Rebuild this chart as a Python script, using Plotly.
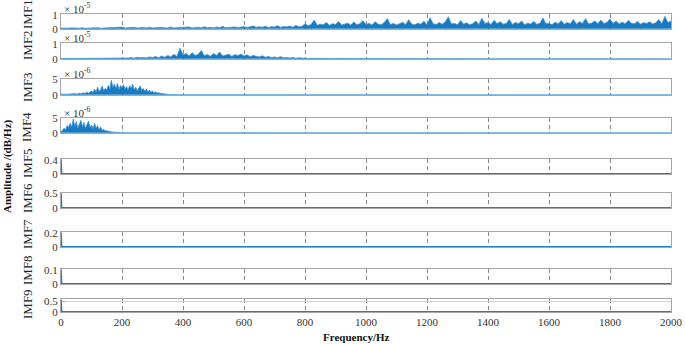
import plotly.graph_objects as go

# ---------------- data ----------------
freq_10 = list(range(0, 2001, 10))  # 10 Hz bins

imf1 = [0.05,0.03,0.04,0.06,0.03,0.05,0.04,0.07,0.03,0.05,0.04,0.06,0.08,0.04,0.05,0.07,0.04,0.06,0.05,0.09,
        0.12,0.05,0.08,0.06,0.10,0.05,0.07,0.09,0.05,0.11,0.06,0.08,0.05,0.10,0.07,0.06,0.12,0.05,0.08,0.09,
        0.10,0.07,0.13,0.06,0.09,0.11,0.07,0.14,0.08,0.10,0.06,0.12,0.09,0.16,0.07,0.10,0.08,0.13,0.09,0.11,
        0.15,0.09,0.13,0.20,0.10,0.14,0.11,0.18,0.09,0.15,0.12,0.22,0.10,0.16,0.13,0.19,0.11,0.24,0.14,0.17,
        0.35,0.22,0.30,0.62,0.25,0.33,0.28,0.45,0.24,0.36,0.30,0.52,0.26,0.34,0.40,0.27,0.48,0.29,0.35,0.58,
        0.30,0.38,0.26,0.50,0.32,0.28,0.44,0.72,0.30,0.38,0.27,0.36,0.46,0.30,0.64,0.33,0.28,0.40,0.32,0.54,
        0.28,0.78,0.36,0.30,0.44,0.32,0.50,0.85,0.34,0.38,0.29,0.58,0.33,0.42,0.28,0.36,0.55,0.31,0.74,0.38,
        0.44,0.30,0.60,0.36,0.50,0.33,0.38,0.66,0.31,0.45,0.35,0.55,0.29,0.40,0.34,0.52,0.32,0.38,0.76,0.36,
        0.38,0.30,0.47,0.34,0.58,0.32,0.44,0.36,0.66,0.33,0.50,0.38,0.72,0.34,0.41,0.55,0.35,0.62,0.37,0.45,
        0.70,0.38,0.55,0.34,0.47,0.36,0.60,0.40,0.35,0.52,0.33,0.44,0.37,0.50,0.34,0.42,0.66,0.36,0.88,0.44,
        0.55]

freq_imf2 = list(range(0, 1000, 10)) + [1000, 1300, 1600, 2000]
imf2 = [0.01,0.01,0.02,0.01,0.01,0.02,0.01,0.02,0.01,0.01,0.02,0.01,0.02,0.02,0.01,0.02,0.03,0.02,0.02,0.04,
        0.06,0.03,0.05,0.08,0.04,0.10,0.06,0.09,0.05,0.12,0.08,0.15,0.07,0.18,0.10,0.22,0.12,0.30,0.15,0.70,
        0.25,0.35,0.18,0.40,0.22,0.30,0.55,0.20,0.28,0.16,0.35,0.22,0.45,0.18,0.25,0.30,0.15,0.28,0.20,0.32,
        0.18,0.26,0.14,0.22,0.17,0.12,0.20,0.10,0.15,0.08,0.12,0.07,0.14,0.06,0.09,0.05,0.08,0.04,0.06,0.03,
        0.04,0.02,0.03,0.02,0.03,0.02,0.02,0.01,0.02,0.01,0.02,0.01,0.01,0.02,0.01,0.01,0.01,0.01,0.01,0.01,
        0.008,0.006,0.004,0.003]

freq_imf3 = list(range(0, 361, 5)) + [400, 2000]
imf3 = [0.2,0.1,0.2,0.15,0.3,0.2,0.25,0.2,0.3,0.4,0.2,0.3,0.5,0.3,0.4,0.6,0.4,0.9,0.5,1.0,
        1.2,0.7,1.8,0.9,2.4,1.1,1.6,2.8,1.3,2.0,1.5,3.0,1.8,4.6,2.4,3.4,2.0,3.6,1.7,2.9,
        2.2,3.2,1.8,2.6,1.5,2.9,2.0,3.4,1.6,2.4,1.3,2.1,2.8,1.4,2.0,1.1,1.8,0.9,1.5,0.8,
        1.2,0.6,0.9,0.5,0.7,0.4,0.5,0.3,0.3,0.2,0.15,0.1,0.05,
        0.02,0.0]

freq_imf4 = list(range(0, 200, 5)) + [200, 2000]
imf4 = [0.3,0.8,1.5,1.0,2.5,1.8,3.2,2.0,4.6,2.2,3.8,1.6,3.0,4.2,2.0,3.5,1.5,2.8,3.9,1.8,
        2.6,1.4,3.2,1.6,2.4,1.0,2.0,0.8,1.2,0.6,0.8,0.4,0.5,0.3,0.3,0.2,0.15,0.1,0.08,0.05,
        0.03,0.0]

freq_low = [0, 2, 2000]
imf5 = [0.41, 0.0, 0.0]
imf6 = [0.51, 0.0, 0.0]
imf7 = [0.205, 0.0, 0.0]
imf8 = [0.103, 0.0, 0.0]
imf9 = [0.58, 0.0, 0.0]

names = ["IMF1", "IMF2", "IMF3", "IMF4", "IMF5", "IMF6", "IMF7", "IMF8", "IMF9"]
xs = [freq_10, freq_imf2, freq_imf3, freq_imf4, freq_low, freq_low, freq_low, freq_low, freq_low]
ys = [imf1, imf2, imf3, imf4, imf5, imf6, imf7, imf8, imf9]
ytop = [1.05, 1.05, 5.0, 5.0, 0.42, 0.52, 0.21, 0.105, 0.6]
yticks = [[0, 1], [0, 1], [0, 5], [0, 5], [0, 0.4], [0, 0.5], [0, 0.2], [0, 0.1], [0, 0.5]]
ytext = [["0", "1"], ["0", "1"], ["0", "5"], ["0", "5"], ["0", "0.4"], ["0", "0.5"], ["0", "0.2"], ["0", "0.1"], ["0", "0.5"]]
exponents = ["-5", "-5", "-6", "-6", None, None, None, None, None]
xtick_vals = [0, 200, 400, 600, 800, 1000, 1200, 1400, 1600, 1800, 2000]

# ---------------- layout ----------------
W, H = 685, 344
L, R, T, B = 61, 14, 14, 32
ph = H - T - B
panels_px = [(14, 29), (43, 59), (79, 95), (118, 133), (159, 174), (193, 208), (232, 247), (269, 284), (299, 312)]
label_centers = [14, 45, 87, 127, 163, 198, 234, 270, 304]

def py(pix):
    return (H - B - pix) / ph

font_family = "Liberation Serif"
fig = go.Figure()
annotations = []
for i in range(9):
    ax = "" if i == 0 else str(i + 1)
    fig.add_trace(go.Scatter(x=xs[i], y=ys[i], mode="lines",
                             line=dict(color="#3b93d8" if i < 4 else "#1f80c8", width=0.8 if i < 4 else 1.6),
                             fill="tozeroy" if i < 4 else None,
                             fillcolor="rgba(0,108,185,0.9)",
                             xaxis="x" + ax, yaxis="y" + ax, showlegend=False,
                             hoverinfo="skip", cliponaxis=False))
    top, bot = panels_px[i]
    fig.layout["xaxis" + ax] = dict(
        domain=[0, 1], anchor="y" + ax, range=[0, 2000],
        tickvals=xtick_vals, showticklabels=(i == 8),
        showgrid=True, gridcolor="#8a8a8a", griddash="4px,3px", gridwidth=1,
        showline=True, mirror=True, linecolor="#a6a6a6", linewidth=1,
        zeroline=False, ticks="", layer="below traces",
        tickfont=dict(family=font_family, size=11, color="#333333"),
        matches=None if i == 0 else "x",
    )
    fig.layout["yaxis" + ax] = dict(
        domain=[py(bot), py(top)], anchor="x" + ax,
        range=[-0.015 * ytop[i], ytop[i]],
        tickvals=yticks[i], ticktext=ytext[i],
        showgrid=(i == 8), gridcolor="#d0d0d0",
        showline=True, mirror=True, linecolor="#a6a6a6", linewidth=1,
        zeroline=False, ticks="inside", ticklen=4, tickcolor="#a6a6a6",
        layer="below traces",
        tickfont=dict(family=font_family, size=11, color="#333333"),
    )
    if exponents[i]:
        annotations.append(dict(
            x=0.002, y=py(top), xref="paper", yref="paper",
            xanchor="left", yanchor="bottom", showarrow=False,
            text="× 10<sup>" + exponents[i] + "</sup>",
            font=dict(family=font_family, size=11, color="#333333"), yshift=-3))
    annotations.append(dict(
        x=(27 - L) / (W - L - R), y=py(label_centers[i]), xref="paper", yref="paper",
        xanchor="center", yanchor="middle", showarrow=False, textangle=-90,
        text=names[i], font=dict(family=font_family, size=13, color="#222222")))

annotations.append(dict(
    x=(8 - L) / (W - L - R), y=py(166), xref="paper", yref="paper",
    xanchor="center", yanchor="middle", showarrow=False, textangle=-90,
    text="<b>Amplitude /(dB/Hz)</b>", font=dict(family=font_family, size=11, color="#111111")))
annotations.append(dict(
    x=(356 - L) / (W - L - R), y=py(337), xref="paper", yref="paper",
    xanchor="center", yanchor="middle", showarrow=False,
    text="<b>Frequency/Hz</b>", font=dict(family=font_family, size=11, color="#111111")))

fig.update_layout(
    width=W, height=H,
    margin=dict(l=L, r=R, t=T, b=B, autoexpand=False),
    paper_bgcolor="white", plot_bgcolor="white",
    annotations=annotations,
)

fig.write_html("out.html", config={"displayModeBar": False},
               post_script="document.body.style.margin='0';document.body.style.padding='0';document.body.style.overflow='hidden';")
